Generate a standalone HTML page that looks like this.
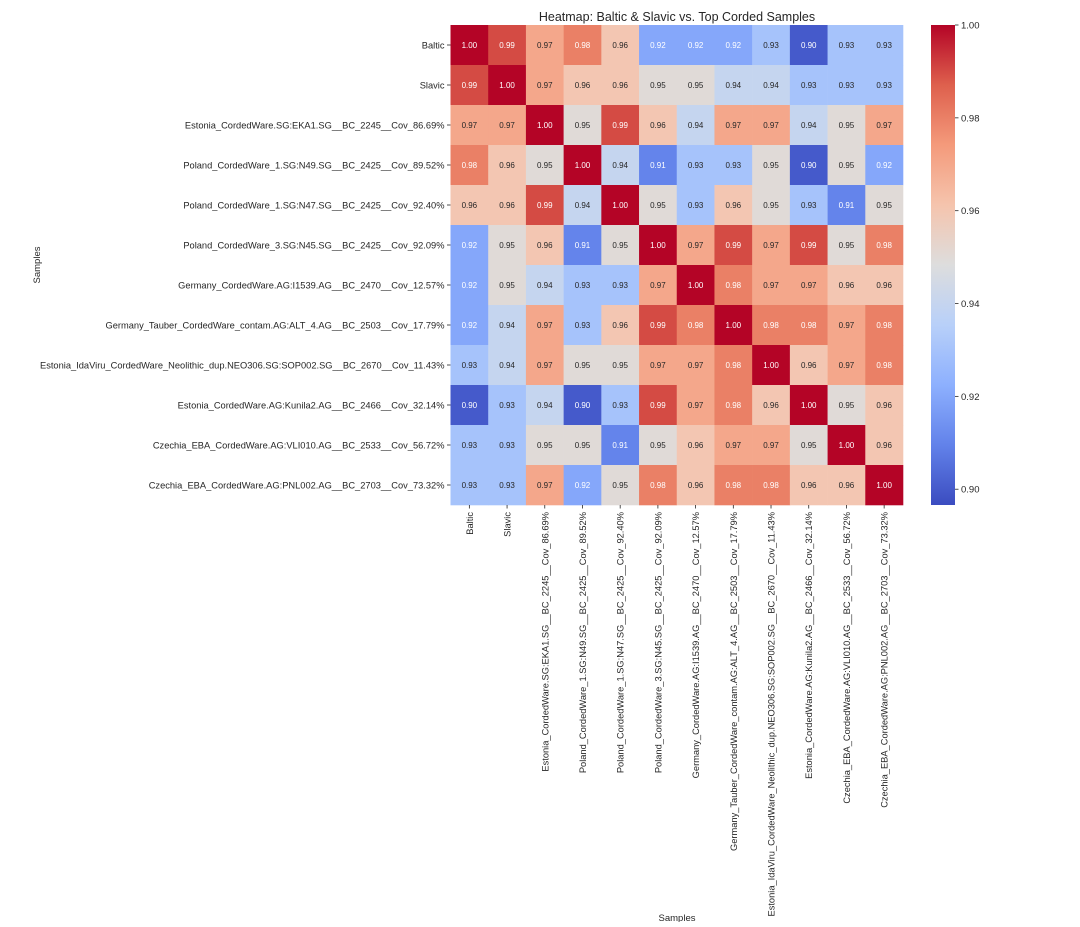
<!DOCTYPE html>
<html><head><meta charset="utf-8"><style>
body{margin:0;background:#fff;}
svg text{font-family:"Liberation Sans","DejaVu Sans",sans-serif;fill:#262626;}
</style></head><body>
<svg id="chart" width="1080" height="922" xmlns="http://www.w3.org/2000/svg">
<defs><linearGradient id="cb" x1="0" y1="1" x2="0" y2="0"></linearGradient></defs>
<text x="677" y="21" font-size="12.5" text-anchor="middle">Heatmap: Baltic &amp; Slavic vs. Top Corded Samples</text>
<text x="40" y="265" font-size="9.5" text-anchor="middle" transform="rotate(-90 40 265)">Samples</text>
<text x="677" y="921" font-size="9.5" text-anchor="middle">Samples</text>
<g id="cells"></g><g id="rows"></g><g id="cols"></g><g id="cbar"></g>
</svg>
<script>
const labels=["Baltic","Slavic","Estonia_CordedWare.SG:EKA1.SG__BC_2245__Cov_86.69%","Poland_CordedWare_1.SG:N49.SG__BC_2425__Cov_89.52%","Poland_CordedWare_1.SG:N47.SG__BC_2425__Cov_92.40%","Poland_CordedWare_3.SG:N45.SG__BC_2425__Cov_92.09%","Germany_CordedWare.AG:I1539.AG__BC_2470__Cov_12.57%","Germany_Tauber_CordedWare_contam.AG:ALT_4.AG__BC_2503__Cov_17.79%","Estonia_IdaViru_CordedWare_Neolithic_dup.NEO306.SG:SOP002.SG__BC_2670__Cov_11.43%","Estonia_CordedWare.AG:Kunila2.AG__BC_2466__Cov_32.14%","Czechia_EBA_CordedWare.AG:VLI010.AG__BC_2533__Cov_56.72%","Czechia_EBA_CordedWare.AG:PNL002.AG__BC_2703__Cov_73.32%"];
const values=[
[1.00,.99,.97,.98,.96,.92,.92,.92,.93,.90,.93,.93],
[.99,1.00,.97,.96,.96,.95,.95,.94,.94,.93,.93,.93],
[.97,.97,1.00,.95,.99,.96,.94,.97,.97,.94,.95,.97],
[.98,.96,.95,1.00,.94,.91,.93,.93,.95,.90,.95,.92],
[.96,.96,.99,.94,1.00,.95,.93,.96,.95,.93,.91,.95],
[.92,.95,.96,.91,.95,1.00,.97,.99,.97,.99,.95,.98],
[.92,.95,.94,.93,.93,.97,1.00,.98,.97,.97,.96,.96],
[.92,.94,.97,.93,.96,.99,.98,1.00,.98,.98,.97,.98],
[.93,.94,.97,.95,.95,.97,.97,.98,1.00,.96,.97,.98],
[.90,.93,.94,.90,.93,.99,.97,.98,.96,1.00,.95,.96],
[.93,.93,.95,.95,.91,.95,.96,.97,.97,.95,1.00,.96],
[.93,.93,.97,.92,.95,.98,.96,.98,.98,.96,.96,1.00]];
const cbTicks=[0.90,0.92,0.94,0.96,0.98,1.00];
const vmin=0.8966,vmax=1.0;
const X0=450.5,Y0=25,CW=(903-450.5)/12,CH=40;
const stops=[[59,76,192],[98,130,234],[141,176,254],[184,208,249],[221,221,221],[245,196,173],[244,154,123],[222,96,77],[180,4,38]];
function cmap(v){let t=Math.max(0,Math.min(1,(v-vmin)/(vmax-vmin)))*8;let i=Math.min(7,Math.floor(t)),f=t-i;
return stops[i].map((c,k)=>Math.round(c+(stops[i+1][k]-c)*f));}
function lum(c){const l=c.map(x=>{x/=255;return x<=0.03928?x/12.92:Math.pow((x+0.055)/1.055,2.4)});return 0.2126*l[0]+0.7152*l[1]+0.0722*l[2];}
const NS="http://www.w3.org/2000/svg";
function mk(t,a,p){const e=document.createElementNS(NS,t);for(const k in a)e.setAttribute(k,a[k]);p.appendChild(e);return e;}
const xs=j=>X0+j*CW, ys=i=>Y0+i*CH;
const cells=document.getElementById('cells'),rows=document.getElementById('rows'),cols=document.getElementById('cols'),cbar=document.getElementById('cbar');
values.forEach((row,i)=>row.forEach((v,j)=>{
 const c=cmap(v);
 const r=mk('rect',{x:xs(j),y:ys(i),width:CW+0.3,height:CH+0.3,fill:`rgb(${c})`},cells);
 
 
 const t=mk('text',{x:xs(j)+CW/2,y:ys(i)+CH/2+3,'font-size':8,'text-anchor':'middle'},cells);
 
 
 t.style.fill=lum(c)>0.408?'#262626':'#ffffff';
 t.textContent=v.toFixed(2);
}));
labels.forEach((l,i)=>{
 mk('line',{x1:X0-3.5,x2:X0,y1:ys(i)+CH/2,y2:ys(i)+CH/2,stroke:'#262626','stroke-width':0.8},rows);
 const t=mk('text',{x:X0-6,y:ys(i)+CH/2+3.5,'font-size':9.3,'text-anchor':'end'},rows);
 
 
 t.textContent=l;
 const cx=xs(i)+CW/2,by=Y0+12*CH;
 mk('line',{x1:cx,x2:cx,y1:by,y2:by+3.5,stroke:'#262626','stroke-width':0.8},cols);
 const u=mk('text',{x:cx+3.5,y:by+7,'font-size':9.3,'text-anchor':'end',transform:`rotate(-90 ${cx+3.5} ${by+7})`},cols);
 
 
 u.textContent=l;
});
const g=document.getElementById('cb');
for(let k=0;k<=8;k++){mk('stop',{offset:k/8,'stop-color':`rgb(${stops[k]})`},g);}
const CBX=931,CBW=24,CBT=25,CBB=505;
const cb=mk('rect',{x:CBX,y:CBT,width:CBW,height:CBB-CBT,fill:'url(#cb)'},cbar);


const cy=v=>CBB-(v-vmin)/(vmax-vmin)*(CBB-CBT);
cbTicks.forEach(v=>{
 mk('line',{x1:CBX+CBW,x2:CBX+CBW+3.5,y1:cy(v),y2:cy(v),stroke:'#262626','stroke-width':0.8},cbar);
 const t=mk('text',{x:CBX+CBW+6,y:cy(v)+3.5,'font-size':9.5},cbar);
 
 
 t.textContent=v.toFixed(2);
});
</script>
</body></html>
